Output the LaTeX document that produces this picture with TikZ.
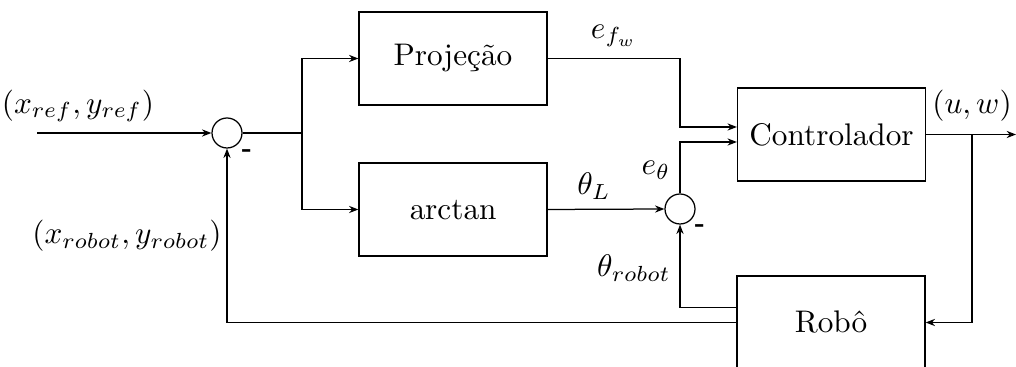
\documentclass[tikz,border=0pt]{standalone}
\usetikzlibrary{arrows.meta}
\begin{document}
\begin{tikzpicture}[x=0.32pt,y=-0.32pt,
  block/.style={draw, minimum width=60.16pt, minimum height=29.76pt, inner sep=0pt},
  sumnode/.style={draw, circle, minimum size=9.6pt, inner sep=0pt},
  arr/.style={-{Stealth[length=3pt,width=2.3pt]}},
  sign/.style={font=\footnotesize\bfseries, inner sep=0pt}]
\useasboundingbox (0,0) rectangle (1016,367);
\node[block] (proj) at (453,58.5) {Projeção};
\node[block] (atan) at (453,209.5) {$\arctan$};
\node[block] (ctrl) at (831.5,134.5) {Controlador};
\node[block] (robo) at (831,322.5) {Robô};
\node[sumnode] (s1) at (227,133) {};
\node[sumnode] (s2) at (680,209) {};
\coordinate (in) at (37,133);
\coordinate (split) at (302,133);
\coordinate (k1) at (680,127);
\coordinate (k2) at (680,142);
\coordinate (br) at (972,134.5);
\coordinate (out) at (1016,134.5);
\draw[arr] (in) -- (s1);
\draw (s1) -- (split);
\draw[arr] (split) |- (proj.west);
\draw[arr] (split) |- (atan.west);
\draw[arr] (proj.east) -| (k1) -- (k1 -| ctrl.west);
\draw[arr] (atan.east) -- (s2.west);
\draw[arr] (s2.north) -- (k2) -- (k2 -| ctrl.west);
\draw (ctrl.east) -- (br);
\draw[arr] (br) -- (out);
\draw[arr] (br) |- (robo.east);
\draw[arr] ([yshift=4.8pt]robo.west) -| (s2.south);
\draw[arr] (robo.west) -| (s1.south);
\node (lref) at (78,106) {$(x_{ref},y_{ref})$};
\node (lrob) at (127,236) {$(x_{robot},y_{robot})$};
\node (lefw) at (614,36) {$e_{f_w}$};
\node (lthL) at (594,186) {$\theta_L$};
\node (leth) at (656,170) {$e_\theta$};
\node (lthr) at (634,268) {$\theta_{robot}$};
\node (luw) at (972,106) {$(u,w)$};
\node[sign] (m1) at (247,153) {-};
\node[sign] (m2) at (700,228) {-};
\end{tikzpicture}
\end{document}
